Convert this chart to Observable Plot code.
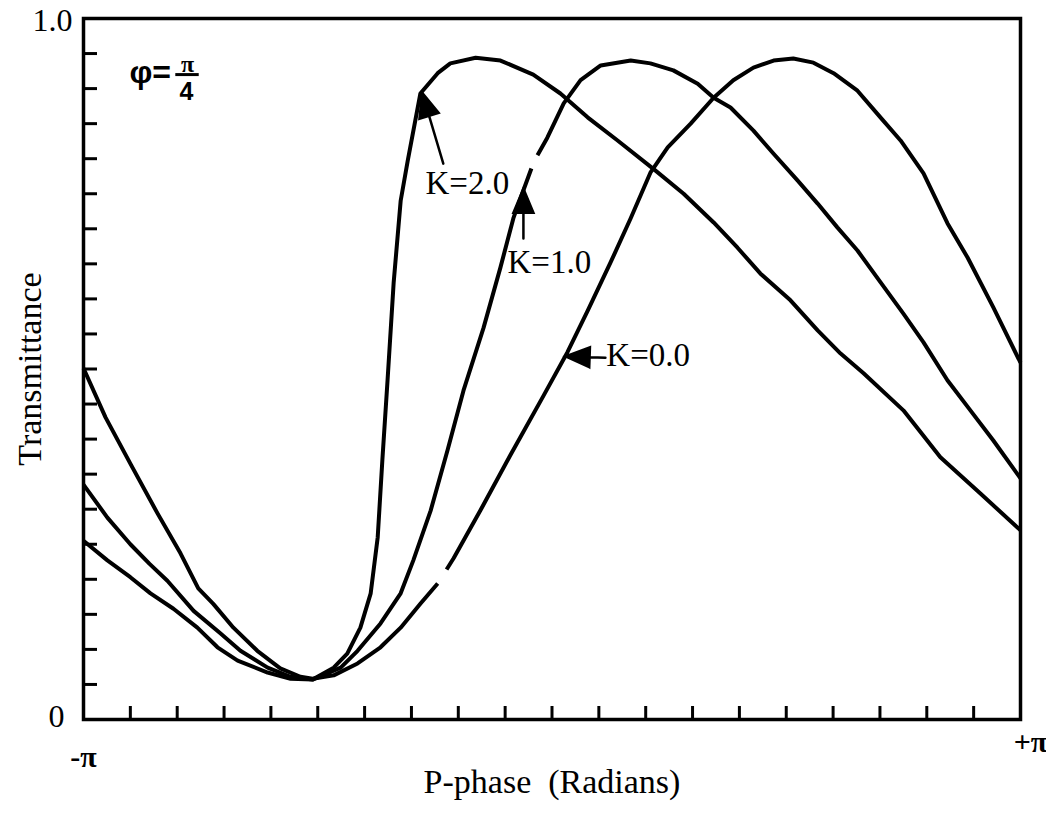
<!DOCTYPE html>
<html>
<head>
<meta charset="utf-8">
<script src="https://cdn.jsdelivr.net/npm/d3@7"></script>
<script src="https://cdn.jsdelivr.net/npm/@observablehq/plot@0.6"></script>
<style>
  html, body { margin: 0; padding: 0; background: #fff; }
  #chart svg { display: block; }
</style>
</head>
<body>
<div id="chart"></div>
<script>
// ---- Data (phase in units of π, transmittance 0..1) ----
const k0Phase = [-1.000,-0.953,-0.900,-0.842,-0.793,-0.755,-0.723,-0.680,-0.629,-0.580,-0.537,-0.511,-0.466,-0.415,-0.366,-0.323,-0.281,-0.244,null,-0.225,-0.210,-0.153,-0.089,-0.018,0.033,0.076,0.125,0.168,0.210,0.247,0.296,0.345,0.387,0.430,0.473,0.515,0.558,0.601,0.652,0.701,0.744,0.793,0.844,0.887,0.942,1.000];
const k0T     = [0.501,0.431,0.365,0.294,0.237,0.187,0.165,0.131,0.098,0.073,0.061,0.058,0.063,0.080,0.103,0.131,0.165,0.194,null,0.214,0.230,0.298,0.377,0.462,0.524,0.583,0.652,0.715,0.780,0.816,0.850,0.887,0.912,0.930,0.940,0.943,0.937,0.922,0.897,0.859,0.826,0.779,0.708,0.659,0.588,0.509];

const k1Phase = [-1.000,-0.949,-0.900,-0.859,-0.821,-0.765,-0.708,-0.665,-0.607,-0.558,-0.511,-0.451,-0.415,-0.366,-0.323,-0.296,-0.259,-0.223,-0.189,-0.146,-0.110,-0.082,-0.061,-0.044,null,-0.031,-0.010,0.025,0.061,0.104,0.168,0.210,0.259,0.311,0.345,0.381,0.430,0.473,0.524,0.567,0.609,0.652,0.701,0.750,0.793,0.844,0.893,0.942,1.000];
const k1T     = [0.335,0.288,0.250,0.222,0.198,0.155,0.123,0.098,0.074,0.061,0.057,0.074,0.098,0.137,0.180,0.227,0.298,0.384,0.469,0.559,0.645,0.716,0.755,0.786,null,0.805,0.830,0.879,0.912,0.933,0.940,0.936,0.926,0.907,0.887,0.873,0.840,0.807,0.769,0.736,0.702,0.669,0.624,0.579,0.538,0.484,0.441,0.398,0.344];

const k2Phase = [-1.000,-0.949,-0.900,-0.857,-0.808,-0.757,-0.714,-0.671,-0.607,-0.558,-0.511,-0.466,-0.437,-0.409,-0.387,-0.372,-0.362,-0.351,-0.338,-0.323,-0.308,-0.281,-0.244,-0.217,-0.163,-0.110,-0.040,0.018,0.076,0.140,0.221,0.281,0.345,0.396,0.445,0.509,0.567,0.616,0.665,0.750,0.829,0.915,1.000];
const k2T     = [0.255,0.227,0.203,0.180,0.158,0.131,0.103,0.084,0.067,0.058,0.057,0.074,0.094,0.131,0.180,0.260,0.371,0.484,0.623,0.740,0.797,0.893,0.922,0.936,0.944,0.940,0.920,0.893,0.859,0.826,0.783,0.750,0.709,0.673,0.636,0.598,0.555,0.522,0.494,0.441,0.374,0.322,0.270];

const seriesNames = ["K=0.0", "K=1.0", "K=2.0"];
const seriesPhase = [k0Phase, k1Phase, k2Phase];
const seriesT = [k0T, k1T, k2T];

// tick positions
const xTicks = d3.range(-9, 10).map(i => i / 10);      // every π/10
const yTicks = d3.range(1, 20).map(i => i / 20);       // every 0.05

// tick labels
const yTopLabel = [{v: 1.0, label: "1.0"}];
const yBottomLabel = [{v: 0, label: "0"}];
const xLeftLabel = [{v: -1, label: "-π"}];
const xRightLabel = [{v: 1, label: "+π"}];

// curve labels & arrows (data units)
const labelText  = ["K=2.0", "K=1.0", "K=0.0"];
const labelPhase = [-0.270, -0.095, 0.116];
const labelT     = [0.765, 0.652, 0.519];
const arrowTailPhase = [-0.232, -0.061, 0.114];
const arrowTailT     = [0.793, 0.686, 0.516];
const arrowTipPhase  = [-0.277, -0.061, 0.029];
const arrowTipT      = [0.894, 0.757, 0.518];

// φ = π/4 annotation
const phiPos = {phase: -0.902, t: 0.922};
const fracNumPos = {phase: -0.778, t: 0.935};
const fracDenPos = {phase: -0.780, t: 0.895};
const fracBar = {phase1: -0.803, phase2: -0.753, t: 0.920};

// ---- Build table ----
const rows = [];
seriesNames.forEach((name, s) => {
  seriesPhase[s].forEach((p, i) => rows.push({k: name, phase: p, t: seriesT[s][i]}));
});

const W = 1046, H = 815;
const mL = 83, mR = 26, mT = 18, mB = 96;
const innerW = W - mL - mR, innerH = H - mT - mB;

const xS = Plot.scale({x: {domain: [-1, 1], range: [mL, W - mR]}});
const yS = Plot.scale({y: {domain: [0, 1], range: [H - mB, mT]}});

const headShape = {
  draw(context, l) {
    const h = 24, w = 10;
    context.moveTo(0, 0);
    context.lineTo(0, -l + h * 0.7);
    context.moveTo(-w, -l + h);
    context.lineTo(0, -l);
    context.lineTo(w, -l + h);
    context.closePath();
  }
};

const arrowMarks = labelText.map((_, i) => {
  const x1 = xS.apply(arrowTailPhase[i]), y1 = yS.apply(arrowTailT[i]);
  const x2 = xS.apply(arrowTipPhase[i]), y2 = yS.apply(arrowTipT[i]);
  const len = Math.hypot(x2 - x1, y2 - y1);
  const ang = Math.atan2(x2 - x1, -(y2 - y1)) * 180 / Math.PI;
  return Plot.vector([0], {
    x: () => arrowTailPhase[i], y: () => arrowTailT[i],
    length: len, rotate: ang, anchor: "start", shape: headShape,
    stroke: "black", fill: "black", strokeWidth: 2.5, strokeLinejoin: "miter"
  });
});

const serif = "'Liberation Serif', 'Times New Roman', serif";
const sans = "'Liberation Sans', Arial, sans-serif";

const chart = Plot.plot({
  width: W, height: H,
  marginLeft: mL, marginRight: mR, marginTop: mT, marginBottom: mB,
  x: {domain: [-1, 1], axis: null},
  y: {domain: [0, 1], axis: null},
  style: {fontFamily: serif, background: "white", color: "black", overflow: "visible"},
  marks: [
    Plot.tickX(xTicks, {x: d => d, insetTop: innerH - 13, strokeWidth: 3}),
    Plot.tickY(yTicks, {y: d => d, insetRight: innerW - 14, strokeWidth: 3}),
    Plot.line(rows, {x: "phase", y: "t", z: "k", stroke: "black", strokeWidth: 4, strokeLinejoin: "round", strokeLinecap: "butt"}),
    Plot.frame({stroke: "black", strokeWidth: 3.5}),
    // tick labels
    Plot.text(yTopLabel, {x: () => -1, y: "v", text: "label", textAnchor: "end", dx: -11, dy: 2, fontSize: 32, fontFamily: serif}),
    Plot.text(yBottomLabel, {x: () => -1, y: "v", text: "label", textAnchor: "end", dx: -19, dy: -3, fontSize: 32, fontFamily: serif}),
    Plot.text(xLeftLabel, {x: "v", y: () => 0, text: "label", dy: 38, fontSize: 30, fontWeight: "bold", fontFamily: serif}),
    Plot.text(xRightLabel, {x: "v", y: () => 0, text: "label", dx: 10, dy: 23, fontSize: 30, fontWeight: "bold", fontFamily: serif}),
    // axis titles
    Plot.text(["Transmittance"], {frameAnchor: "left", textAnchor: "middle", dx: -53, rotate: -90, fontSize: 34, fontFamily: serif}),
    Plot.text(["P-phase  (Radians)"], {frameAnchor: "bottom", textAnchor: "middle", dy: 73, fontSize: 34, fontFamily: serif}),
    // curve labels
    Plot.text(labelText, {x: (d, i) => labelPhase[i], y: (d, i) => labelT[i], text: d => d, textAnchor: "start", fontSize: 33, fontFamily: serif}),
    ...arrowMarks,
    // φ = π/4
    Plot.text(["φ="], {x: () => phiPos.phase, y: () => phiPos.t, textAnchor: "start", fontSize: 32, fontWeight: "bold", fontFamily: sans}),
    Plot.text(["π"], {x: () => fracNumPos.phase, y: () => fracNumPos.t, fontSize: 24, fontWeight: "bold", fontFamily: serif}),
    Plot.text(["4"], {x: () => fracDenPos.phase, y: () => fracDenPos.t, fontSize: 25, fontWeight: "bold", fontFamily: sans}),
    Plot.ruleY([fracBar.t], {x1: fracBar.phase1, x2: fracBar.phase2, strokeWidth: 3})
  ]
});

document.getElementById("chart").appendChild(chart);
</script>
</body>
</html>
